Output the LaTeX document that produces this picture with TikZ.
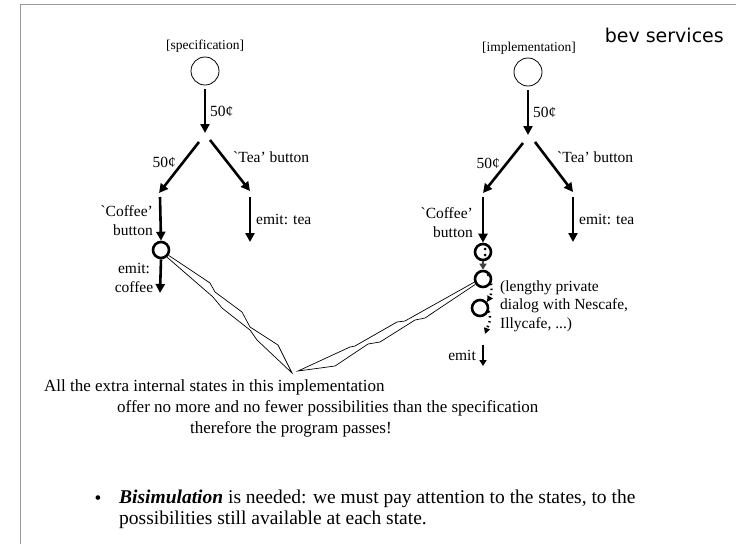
\documentclass[tikz,border=0pt]{standalone}
\usepackage{fontspec}
\setmainfont{Liberation Serif}
\newfontfamily\hdrfont{DejaVu Sans}
\usetikzlibrary{arrows.meta}
\tikzset{
  tarrow/.style={line width=2.6pt,-{Triangle[length=9pt,width=9pt]}},
  sarrow/.style={line width=2.2pt,-{Triangle[length=6pt,width=7pt]}},
  darrow/.style={line width=2.4pt,dash pattern=on 1.5pt off 3.5pt,-{Triangle[length=6pt,width=6pt]}},
  initstate/.style={circle,draw,line width=0.8pt,minimum size=28pt,inner sep=0pt},
  thstate/.style={circle,draw,line width=2.6pt,minimum size=16pt,inner sep=0pt},
  lbl/.style={font=\fontsize{15.5}{19}\selectfont,inner sep=0pt},
  hlbl/.style={font=\fontsize{13.5}{16}\selectfont,inner sep=0pt},
  big/.style={font=\fontsize{17}{21}\selectfont,inner sep=0pt,anchor=west},
  bull/.style={font=\fontsize{19.5}{21}\selectfont,inner sep=0pt},
  wedge/.style={line width=0.7pt,line join=miter},
  pdot/.style={circle,fill,minimum size=3pt,inner sep=0pt}
}
\begin{document}
\begin{tikzpicture}[x=1pt,y=-1pt]
\useasboundingbox (0,0) rectangle (736,544);
\draw[gray!80,line width=1pt] (20,544) -- (20,4.5) -- (736,4.5);
\node[font=\hdrfont\fontsize{19}{22}\selectfont,anchor=east,inner sep=0pt] (title) at (724,35) {bev services};

% ---------- specification ----------
\node[hlbl] (specl) at (205,46) {[specification]};
\node[initstate] (s0) at (205,71) {};
\coordinate (s1a) at (205,89);
\coordinate (s1b) at (205,133);
\draw[tarrow] (s1a) -- (s1b);
\node[lbl,anchor=west] (sl1) at (210,111) {50¢};
\coordinate (sbl) at (199,142);
\coordinate (sbr) at (210,140);
\coordinate (sl) at (159,193);
\coordinate (sr) at (250,191);
\draw[tarrow] (sbl) -- (sl);
\draw[tarrow] (sbr) -- (sr);
\node[lbl,anchor=east] (sl2) at (176,162) {50¢};
\node[lbl,anchor=west] (sl3) at (233,157) {\textasciigrave Tea’ button};
\coordinate (sc1) at (160,197);
\node[thstate] (sc) at (161,250) {};
\draw[tarrow] (sc1) -- (sc.north);
\node[lbl,anchor=east,align=right] (sl4) at (153,221) {\textasciigrave Coffee’\\button};
\coordinate (st1) at (250,197);
\coordinate (st2) at (250,242);
\draw[tarrow] (st1) -- (st2);
\node[lbl,anchor=west] (sl5) at (256,219) {emit: tea};
\coordinate (sce) at (160,293);
\draw[tarrow] (sc.south) -- (sce);
\node[lbl,align=center] (sl6) at (134,278) {emit:\\coffee};

% ---------- implementation ----------
\node[hlbl] (impl) at (529,48) {[implementation]};
\node[initstate] (i0) at (528,72) {};
\coordinate (i1a) at (528,90);
\coordinate (i1b) at (528,135);
\draw[tarrow] (i1a) -- (i1b);
\node[lbl,anchor=west] (il1) at (533,112) {50¢};
\coordinate (ibl) at (523,143);
\coordinate (ibr) at (535,142);
\coordinate (il) at (483,193);
\coordinate (ir) at (573,192);
\draw[tarrow] (ibl) -- (il);
\draw[tarrow] (ibr) -- (ir);
\node[lbl,anchor=east] (il2) at (500,163) {50¢};
\node[lbl,anchor=west] (il3) at (557,157) {\textasciigrave Tea’ button};
\coordinate (ic1) at (483,197);
\node[thstate] (c1) at (483,252) {};
\draw[tarrow] (ic1) -- (c1.north);
\node[lbl,anchor=east,align=right] (il4) at (473,223) {\textasciigrave Coffee’\\button};
\coordinate (it1) at (573,197);
\coordinate (it2) at (573,242);
\draw[tarrow] (it1) -- (it2);
\node[lbl,anchor=west] (il5) at (579,219) {emit: tea};

\node[pdot] (d1) at (485,249) {};
\node[pdot] (d2) at (485,255) {};
\node[thstate] (c2) at (483,279) {};
\draw[sarrow,black!75] (c1.south) -- (c2.north);
\node[pdot] (d3) at (488,275) {};
\node[thstate] (c3) at (480,308) {};
\coordinate (c3e) at (485,334);
\draw[darrow] (c2.-30) to[out=-80,in=60] (c3.40);
\draw[darrow] (c3.-20) to[out=-70,in=70] (c3e);
\coordinate (ie1) at (483,345);
\coordinate (ie2) at (483,366);
\draw[sarrow] (ie1) -- (ie2);
\node[lbl,anchor=east] (il6) at (476,355) {emit};
\node[lbl,anchor=west,align=left,font=\fontsize{15.5}{18.5}\selectfont] (dlg) at (500,306) {(lengthy private\\dialog with Nescafe,\\Illycafe, ...)};

% ---------- callout wedges ----------
\coordinate (tipa) at (292,373);
\coordinate (tipb) at (298,371);
\draw[wedge] (sc.-35) -- (210,283) -- (215,292) -- (242,312) -- (250,327) -- (278,345) -- (tipa)
  -- (257,340) -- (250,330) -- (222,308) -- (213,297) -- (sc.-50);
\draw[wedge] (c2.200) -- (405,321) -- (397,322) -- (355,346) -- (350,347) -- (tipb)
  -- (335,366) -- (368,344) -- (380,342) -- (415,320) -- (425,318) -- (c2.215);

% ---------- text ----------
\node[big] (t1) at (44,387) {All the extra internal states in this implementation};
\node[big] (t2) at (117,408) {offer no more and no fewer possibilities than the specification};
\node[big] (t3) at (190,429) {therefore the program passes!};
\node[bull] (bul) at (98,500) {•};
\node[bull,align=left,anchor=north west] (b1) at (119,490) {\textbf{\textit{Bisimulation}} is needed: we must pay attention to the states, to the\\possibilities still available at each state.};
\end{tikzpicture}
\end{document}
